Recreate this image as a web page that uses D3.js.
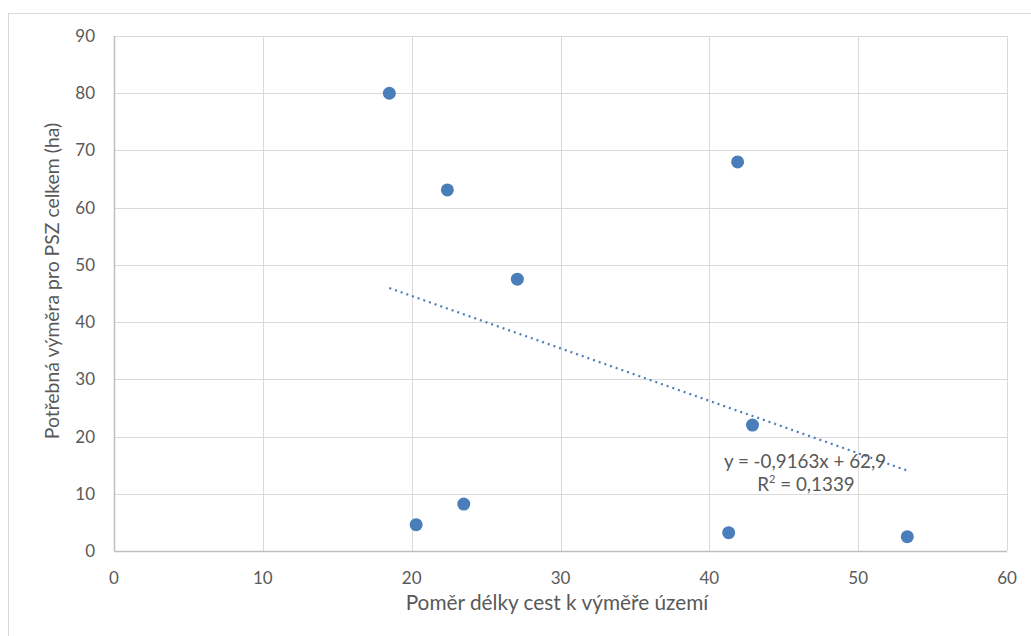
<!DOCTYPE html>
<html>
<head>
<meta charset="utf-8">
<script src="https://cdn.jsdelivr.net/npm/d3@7"></script>
<style>
  body { margin: 0; background: #fff; }
  text { font-family: Lato, "Open Sans", sans-serif; fill: #595959; }
</style>
</head>
<body>
<div id="chart"></div>
<script>
// Plot constants
const WIDTH = 1031;
const HEIGHT = 636;

// data
const ratioX = [18.5, 22.4, 27.1, 41.9, 42.9, 20.3, 23.5, 41.3, 53.3];
const areaY = [80.0, 63.1, 47.5, 68.0, 22.0, 4.6, 8.2, 3.2, 2.5];
const xTicks = [0, 10, 20, 30, 40, 50, 60];
const yTicks = [0, 10, 20, 30, 40, 50, 60, 70, 80, 90];
// trendline as printed on the chart
const slope = -0.9163;
const intercept = 62.9;
const eqLabel = "y = -0,9163x + 62,9";
const r2Label = "0,1339";

const margin = {top: 36, right: 24, bottom: 85, left: 114};

const svg = d3
  .select("#chart")
  .append("svg")
  .attr("width", WIDTH)
  .attr("height", HEIGHT);

// outer chart frame
svg.append("rect")
  .attr("x", 8.5)
  .attr("y", 13.5)
  .attr("width", WIDTH)
  .attr("height", HEIGHT)
  .attr("fill", "none")
  .attr("stroke", "#d9d9d9");

const x = d3.scaleLinear().domain([0, 60]).range([margin.left, WIDTH - margin.right]);
const y = d3.scaleLinear().domain([0, 90]).range([HEIGHT - margin.bottom, margin.top]);

// grid
svg.append("g")
  .selectAll("line")
  .data(yTicks)
  .join("line")
  .attr("x1", x(0)).attr("x2", x(60))
  .attr("y1", d => Math.round(y(d)) + 0.5).attr("y2", d => Math.round(y(d)) + 0.5)
  .attr("stroke", "#d9d9d9");

svg.append("g")
  .selectAll("line")
  .data(xTicks)
  .join("line")
  .attr("x1", d => Math.round(x(d)) + 0.5).attr("x2", d => Math.round(x(d)) + 0.5)
  .attr("y1", y(0)).attr("y2", y(90))
  .attr("stroke", "#d9d9d9");

// axes lines
svg.append("line")
  .attr("x1", x(0) + 0.5).attr("x2", x(0) + 0.5)
  .attr("y1", y(0)).attr("y2", y(90))
  .attr("stroke", "#bfbfbf").attr("stroke-width", 1.5);
svg.append("line")
  .attr("x1", x(0)).attr("x2", x(60))
  .attr("y1", Math.round(y(0)) + 0.5).attr("y2", Math.round(y(0)) + 0.5)
  .attr("stroke", "#bfbfbf").attr("stroke-width", 1.5);

// tick labels
svg.append("g")
  .selectAll("text")
  .data(yTicks)
  .join("text")
  .attr("x", x(0) - 19)
  .attr("y", d => y(d))
  .attr("dy", "0.35em")
  .attr("text-anchor", "end")
  .attr("font-size", "17px")
  .text(d => d);

svg.append("g")
  .selectAll("text")
  .data(xTicks)
  .join("text")
  .attr("x", d => x(d))
  .attr("y", y(0) + 27)
  .attr("dy", "0.35em")
  .attr("text-anchor", "middle")
  .attr("font-size", "17px")
  .text(d => d);

// axis titles
svg.append("text")
  .attr("x", 557)
  .attr("y", 603)
  .attr("dy", "0.35em")
  .attr("text-anchor", "middle")
  .attr("font-size", "20.8px")
  .text("Poměr délky cest k výměře území");

svg.append("text")
  .attr("transform", "translate(52,281) rotate(-90)")
  .attr("dy", "0.35em")
  .attr("text-anchor", "middle")
  .attr("font-size", "19.4px")
  .text("Potřebná výměra pro PSZ celkem (ha)");

// trendline
const x0 = d3.min(ratioX), x1 = d3.max(ratioX);
svg.append("line")
  .attr("x1", x(x0)).attr("y1", y(slope * x0 + intercept))
  .attr("x2", x(x1)).attr("y2", y(slope * x1 + intercept))
  .attr("stroke", "#4a7ebb")
  .attr("stroke-width", 2.2)
  .attr("stroke-dasharray", "2,4");

// points
svg.append("g")
  .selectAll("circle")
  .data(ratioX.map((d, i) => [d, areaY[i]]))
  .join("circle")
  .attr("cx", d => x(d[0]))
  .attr("cy", d => y(d[1]))
  .attr("r", 6.5)
  .attr("fill", "#4a7ebb");

// equation label
svg.append("text")
  .attr("x", 805)
  .attr("y", 461)
  .attr("dy", "0.35em")
  .attr("text-anchor", "middle")
  .attr("font-size", "18.8px")
  .text(eqLabel);

const r2 = svg.append("text")
  .attr("x", 806)
  .attr("y", 484)
  .attr("dy", "0.35em")
  .attr("text-anchor", "middle")
  .attr("font-size", "18.8px");
r2.append("tspan").text("R");
r2.append("tspan").attr("font-size", "11px").attr("dy", "-0.7em").text("2");
r2.append("tspan").attr("dy", "0.45em").text(" = " + r2Label);
</script>
</body>
</html>
